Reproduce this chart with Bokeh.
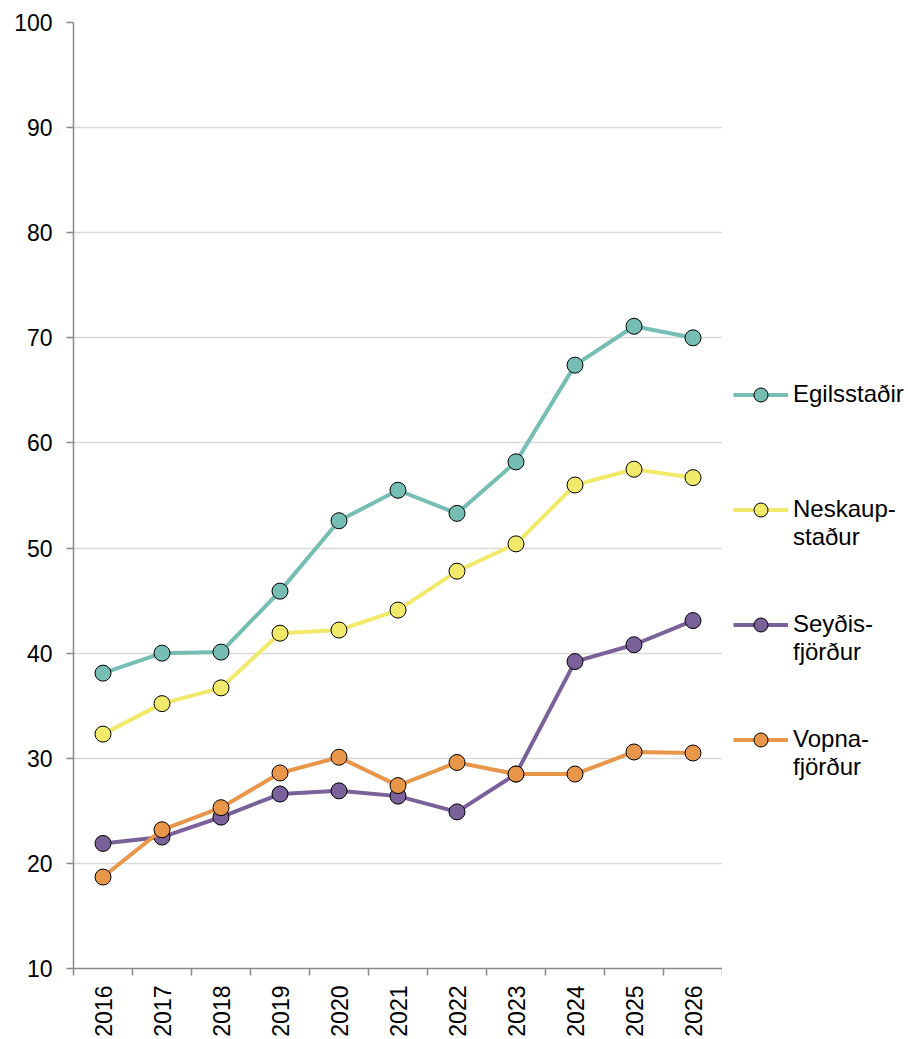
from bokeh.plotting import figure
from bokeh.layouts import row
from bokeh.models import (FixedTicker, Legend, LegendItem, ColumnDataSource, Range1d)
from bokeh.embed import file_html
from bokeh.resources import INLINE

years = ["2016", "2017", "2018", "2019", "2020", "2021", "2022", "2023", "2024", "2025", "2026"]
egilsstadir = [38.1, 40.0, 40.1, 45.9, 52.6, 55.5, 53.3, 58.2, 67.4, 71.1, 70.0]
neskaupstadur = [32.3, 35.2, 36.7, 41.9, 42.2, 44.1, 47.8, 50.4, 56.0, 57.5, 56.7]
seydisfjordur = [21.9, 22.5, 24.4, 26.6, 26.9, 26.4, 24.9, 28.5, 39.2, 40.8, 43.1]
vopnafjordur = [18.7, 23.2, 25.3, 28.6, 30.1, 27.4, 29.6, 28.5, 28.5, 30.6, 30.5]
series_names = ["Egilsstaðir", "\nNeskaup-\nstaður", "\nSeyðis-\nfjörður", "\nVopna-\nfjörður"]
series_values = [egilsstadir, neskaupstadur, seydisfjordur, vopnafjordur]
colors = ["#76BDB3", "#F0E969", "#7A6199", "#E8964A"]
y_ticks = [10, 20, 30, 40, 50, 60, 70, 80, 90, 100]

FONT = "Liberation Sans"
FS = "23px"

xpos = [i + 0.5 for i in range(len(years))]

p = figure(width=722, height=1039, output_backend="svg", toolbar_location=None,
           x_range=Range1d(0, len(years)), y_range=Range1d(10, 100),
           min_border_left=73, min_border_right=0, min_border_top=22, min_border_bottom=71)
p.outline_line_color = None
p.background_fill_color = "white"
p.border_fill_color = "white"

p.xaxis.ticker = FixedTicker(ticks=xpos, minor_ticks=list(range(len(years) + 1)))
p.xaxis.major_label_overrides = {x: y for x, y in zip(xpos, years)}
p.xaxis.major_tick_out = 0
p.xaxis.major_tick_in = 0
p.xaxis.minor_tick_out = 7
p.xaxis.minor_tick_in = 0
p.xaxis.minor_tick_line_color = "#898989"
p.xaxis.minor_tick_line_width = 1.5
p.xaxis.major_label_orientation = 1.5707963
p.xaxis.major_label_standoff = 10
p.xaxis.axis_line_color = "#898989"
p.xaxis.axis_line_width = 1.5

p.yaxis.ticker = FixedTicker(ticks=y_ticks)
p.yaxis.major_tick_out = 7
p.yaxis.major_tick_in = 0
p.yaxis.minor_tick_line_color = None
p.yaxis.major_tick_line_color = "#898989"
p.yaxis.major_tick_line_width = 1.5
p.yaxis.axis_line_color = "#898989"
p.yaxis.axis_line_width = 1.5
p.yaxis.major_label_standoff = 14

for ax in (p.xaxis, p.yaxis):
    ax.major_label_text_font = FONT
    ax.major_label_text_font_size = FS
    ax.major_label_text_color = "black"

p.xgrid.grid_line_color = None
p.ygrid.ticker = FixedTicker(ticks=y_ticks)
p.ygrid.grid_line_color = "#D9D9D9"
p.ygrid.grid_line_width = 1.5

# legend-only panel (its ranges show none of the data; only the legend is visible)
lf = figure(width=186, height=1039, output_backend="svg", toolbar_location=None,
            x_axis_location=None, y_axis_location=None,
            x_range=Range1d(1000, 1001), y_range=Range1d(1000, 1001),
            min_border_left=0, min_border_right=0, min_border_top=0, min_border_bottom=0)
lf.outline_line_color = None
lf.xgrid.grid_line_color = None
lf.ygrid.grid_line_color = None
lf.border_fill_color = "white"

items = []
for name, vals, c in zip(series_names, series_values, colors):
    src = ColumnDataSource(dict(x=xpos, y=vals))
    p.line("x", "y", source=src, line_color=c, line_width=4)
    p.scatter("x", "y", source=src, size=16, fill_color=c, line_color="black", line_width=1)
    ln = lf.line("x", "y", source=src, line_color=c, line_width=4)
    sc = lf.scatter("x", "y", source=src, size=16, fill_color=c, line_color="black", line_width=1)
    items.append(LegendItem(label=name, renderers=[ln, sc]))

legend = Legend(items=items, location=(11, 184), orientation="vertical",
                glyph_width=55, glyph_height=35, label_standoff=5,
                label_height=90, spacing=25, padding=0, margin=0,
                border_line_color=None, background_fill_alpha=0,
                label_text_font=FONT, label_text_font_size="24px", label_text_color="black",
                label_text_line_height=1.14)
lf.add_layout(legend)

layout = row(p, lf, spacing=0)
open("out.html", "w").write(file_html(layout, INLINE))
